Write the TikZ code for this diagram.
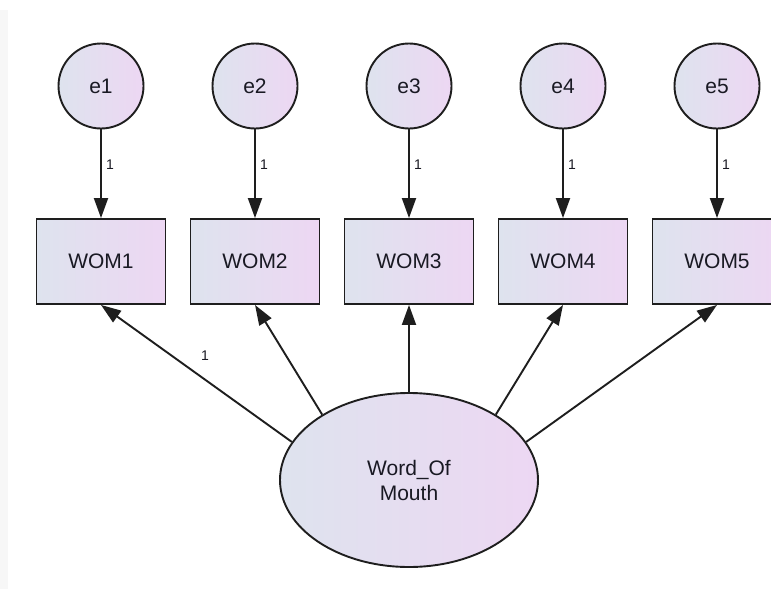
\documentclass[tikz,border=0pt]{standalone}
\usepackage{fontspec}
\setmainfont{Liberation Sans}
\usetikzlibrary{arrows.meta,shapes.geometric,calc}
\definecolor{fillL}{RGB}{222,227,238}
\definecolor{fillR}{RGB}{237,215,243}
\definecolor{ink}{RGB}{25,25,35}
\definecolor{edge}{RGB}{30,30,30}
\tikzset{
  shadedfill/.style={left color=fillL, right color=fillR, draw=edge, line width=1.9pt},
  errvar/.style={shadedfill, circle, minimum size=85pt, inner sep=0pt,
    font=\fontsize{21}{24}\selectfont, text=ink},
  obsvar/.style={shadedfill, rectangle, minimum width=129pt, minimum height=85pt,
    inner sep=0pt, font=\fontsize{21}{24}\selectfont, text=ink},
  latvar/.style={shadedfill, ellipse, minimum width=258pt, minimum height=174pt,
    inner sep=0pt, align=center, font=\fontsize{21}{25}\selectfont, text=ink},
  path/.style={draw=edge, line width=1.9pt, -{Triangle[length=20pt,width=14pt]}},
  weight/.style={font=\fontsize{14}{16}\selectfont, text=ink, inner sep=0pt}
}
\begin{document}
\begin{tikzpicture}[x=1pt,y=-1pt]
\useasboundingbox (0,0) rectangle (771,589);
\clip (0,0) rectangle (771,589);
\fill[white] (0,0) rectangle (771,589);
\fill[black!3] (0,10) rectangle (8,589);

% error terms and observed indicators
\foreach \i/\x in {1/101,2/255,3/409,4/563,5/717}{
  \node[errvar] (e\i) at (\x,86) {e\i};
  \node[obsvar] (w\i) at (\x,261.5) {WOM\i};
}

% latent factor
\node[latvar] (lv) at (409,480) {Word\_Of\\Mouth};

% error paths with fixed weights
\foreach \i in {1,...,5}{
  \draw[path] (e\i.south) -- (w\i.north);
  \node[weight] (k\i) at ([xshift=9pt,yshift=9pt]$(e\i.south)!0.5!(w\i.north)$) {1};
}

% loadings
\draw[path] (lv.162) -- (w1.south);
\draw[path] (lv.143) -- (w2.south);
\draw[path] (lv.90)  -- (w3.south);
\draw[path] (lv.37)  -- (w4.south);
\draw[path] (lv.18)  -- (w5.south);
\node[weight] (k0) at (205,356) {1};
\end{tikzpicture}
\end{document}
